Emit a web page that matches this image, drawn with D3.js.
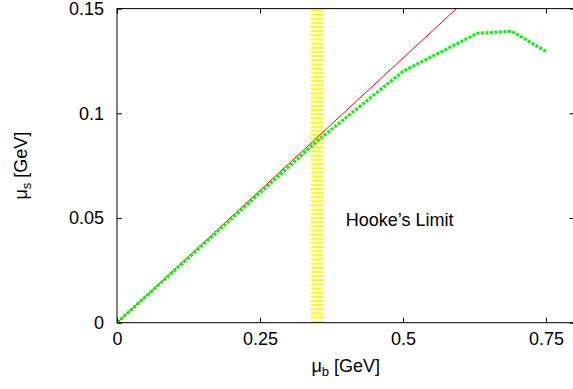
<!DOCTYPE html>
<html><head><meta charset="utf-8">
<script src="https://cdn.jsdelivr.net/npm/d3@7"></script>
<style>
body{margin:0;background:#fff}
svg{display:block}
text{font-family:"Liberation Sans",Arial,Helvetica,sans-serif;}
</style>
</head><body>
<svg id="c" width="573" height="389"></svg>
<script>
// ---- data ----
const xTicks = [0, 0.25, 0.5, 0.75];
const xTickLabels = ["0", "0.25", "0.5", "0.75"];
const yTicks = [0, 0.05, 0.1, 0.15];
const yTickLabels = ["0", "0.05", "0.1", "0.15"];
const greenX = [0, 0.35, 0.5, 0.63, 0.69, 0.75];
const greenY = [0, 0.0868, 0.12, 0.1382, 0.1392, 0.1295];
const redX = [0, 0.8];
const redY = [0, 0.2022];
const limitX = 0.35;
const annotation = "Hooke\u2019s Limit";
const annotationPos = [0.40, 0.046];

// ---- layout ----
const W = 573, H = 389;
const L = 117, T = 8.6, R = 574.6, B = 322.7;
const FS = 18;

const svg = d3.select("#c");
const x = d3.scaleLinear().domain([0, 0.8]).range([L, R]);
const y = d3.scaleLinear().domain([0, 0.15]).range([B, T]);

svg.append("defs").append("clipPath").attr("id", "clip")
  .append("rect").attr("x", L).attr("y", T).attr("width", R - L).attr("height", B - T);

const plot = svg.append("g").attr("clip-path", "url(#clip)");

// yellow limit band
plot.append("line")
  .attr("x1", x(limitX)).attr("x2", x(limitX))
  .attr("y1", y(0)).attr("y2", y(0.15))
  .attr("stroke", "#ffff00").attr("stroke-width", 13)
  .attr("stroke-dasharray", "2,2.15");

// red line
const line = d3.line().x(d => x(d[0])).y(d => y(d[1]));
plot.append("path")
  .datum(redX.map((v, i) => [v, redY[i]]))
  .attr("d", line).attr("fill", "none")
  .attr("stroke", "#ff0000").attr("stroke-width", 1);

// green dotted line
plot.append("path")
  .datum(greenX.map((v, i) => [v, greenY[i]]))
  .attr("d", line).attr("fill", "none")
  .attr("stroke", "#11f011").attr("stroke-width", 3.2)
  .attr("stroke-dasharray", "3,1.5");

// frame
svg.append("rect").attr("x", L).attr("y", T).attr("width", R - L).attr("height", B - T)
  .attr("fill", "none").attr("stroke", "#000").attr("stroke-width", 1);

// axes
const ax = svg.append("g").attr("transform", `translate(0,${B})`)
  .call(d3.axisBottom(x).tickValues(xTicks).tickFormat((d, i) => xTickLabels[i])
    .tickSizeInner(-5).tickSizeOuter(0).tickPadding(10));
const ay = svg.append("g").attr("transform", `translate(${L},0)`)
  .call(d3.axisLeft(y).tickValues(yTicks).tickFormat((d, i) => yTickLabels[i])
    .tickSizeInner(-5).tickSizeOuter(0).tickPadding(13));
const at = svg.append("g").attr("transform", `translate(0,${T})`)
  .call(d3.axisTop(x).tickValues(xTicks).tickFormat("").tickSizeInner(-5).tickSizeOuter(0));
const ar = svg.append("g").attr("transform", `translate(${R},0)`)
  .call(d3.axisRight(y).tickValues(yTicks).tickFormat("").tickSizeInner(-5).tickSizeOuter(0));
[ax, ay, at, ar].forEach(g => {
  g.select(".domain").remove();
  g.selectAll("line").attr("stroke", "#000");
  g.selectAll("text").attr("font-size", FS).attr("fill", "#000")
    .style("font-family", "'Liberation Sans',Arial,sans-serif");
});

// annotation
svg.append("text").attr("x", x(annotationPos[0])).attr("y", y(annotationPos[1]))
  .attr("font-size", FS).text(annotation);

// axis titles
const xt = svg.append("text").attr("x", (L + R) / 2).attr("y", 372)
  .attr("text-anchor", "middle").attr("font-size", FS);
xt.append("tspan").text("\u03bc");
xt.append("tspan").attr("font-size", 13).attr("dy", 4).text("b");
xt.append("tspan").attr("dy", -4).text(" [GeV]");

const yt = svg.append("text")
  .attr("transform", `translate(27,${(T + B) / 2}) rotate(-90)`)
  .attr("text-anchor", "middle").attr("font-size", FS);
yt.append("tspan").text("\u03bc");
yt.append("tspan").attr("font-size", 13).attr("dy", 4).text("s");
yt.append("tspan").attr("dy", -4).text(" [GeV]");
</script>
</body></html>
